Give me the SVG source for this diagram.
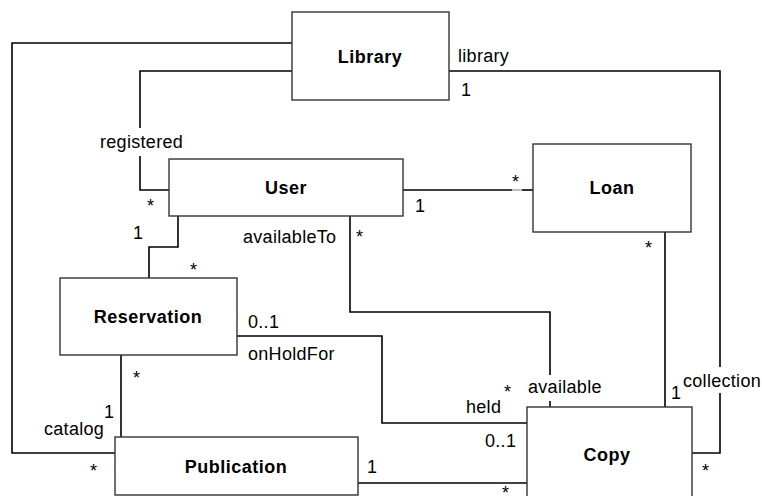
<svg xmlns="http://www.w3.org/2000/svg" width="762" height="496" viewBox="0 0 762 496">
<style>
.box{fill:#fff;stroke:#333;stroke-width:1.4}
.ln{fill:none;stroke:#000;stroke-width:1.6}
.nm{font-family:"Liberation Sans",Arial,sans-serif;font-size:18px;font-weight:bold;letter-spacing:0.5px;text-anchor:middle;fill:#000}
.lb{font-family:"Liberation Sans",Arial,sans-serif;font-size:18px;letter-spacing:0.3px;fill:#000}
</style>
<rect width="762" height="496" fill="#fff"/>
<g id="connectors">
<polyline class="ln" points="292,43 12,43 12,453 115,453"/>
<polyline class="ln" points="292,71 140,71 140,128"/>
<polyline class="ln" points="140,156 140,190 169,190"/>
<polyline class="ln" points="449,71 720,71 720,367"/>
<polyline class="ln" points="720,393 720,453 692,453"/>
<line class="ln" x1="403" y1="190" x2="512" y2="190"/>
<line x1="512" y1="190" x2="522" y2="190" stroke="#aaa" stroke-width="1.6"/>
<line class="ln" x1="522" y1="190" x2="533" y2="190"/>
<polyline class="ln" points="178,216 178,247 149,247 149,278"/>
<polyline class="ln" points="350,216 350,312 550,312 550,375"/>
<line class="ln" x1="550" y1="401" x2="550" y2="407"/>
<polyline class="ln" points="237,336 382,336 382,423 527,423"/>
<line class="ln" x1="121" y1="355" x2="121" y2="437"/>
<line class="ln" x1="358" y1="483" x2="527" y2="483"/>
<line class="ln" x1="665" y1="232" x2="665" y2="407"/>
</g>
<g id="library"><rect class="box" x="292" y="12" width="157" height="88"/><text class="nm" x="370" y="63">Library</text></g>
<g id="user"><rect class="box" x="169" y="159" width="234" height="57"/><text class="nm" x="286" y="194">User</text></g>
<g id="loan"><rect class="box" x="533" y="144" width="158" height="88"/><text class="nm" x="612" y="194">Loan</text></g>
<g id="reservation"><rect class="box" x="60" y="278" width="177" height="77"/><text class="nm" x="148" y="323">Reservation</text></g>
<g id="publication"><rect class="box" x="115" y="437" width="243" height="58"/><text class="nm" x="236" y="473">Publication</text></g>
<g id="copy"><rect class="box" x="527" y="407" width="165" height="110"/><text class="nm" x="607" y="461">Copy</text></g>
<g id="labels">
<text class="lb" x="458" y="62">library</text>
<text class="lb" x="461" y="96">1</text>
<text class="lb" x="100" y="148">registered</text>
<text class="lb" x="147" y="212">*</text>
<text class="lb" x="133" y="239">1</text>
<text class="lb" x="243" y="243">availableTo</text>
<text class="lb" x="356" y="243">*</text>
<text class="lb" x="415" y="212">1</text>
<text class="lb" x="512" y="188">*</text>
<text class="lb" x="190" y="276">*</text>
<text class="lb" x="645" y="254">*</text>
<text class="lb" x="248" y="328">0..1</text>
<text class="lb" x="248" y="360">onHoldFor</text>
<text class="lb" x="133" y="384">*</text>
<text class="lb" x="104" y="418">1</text>
<text class="lb" x="44" y="435">catalog</text>
<text class="lb" x="90" y="477">*</text>
<text class="lb" x="367" y="473">1</text>
<text class="lb" x="504" y="398">*</text>
<text class="lb" x="528" y="393">available</text>
<text class="lb" x="466" y="413">held</text>
<text class="lb" x="485" y="447">0..1</text>
<text class="lb" x="502" y="499">*</text>
<text class="lb" x="671" y="399">1</text>
<text class="lb" x="683" y="387" letter-spacing="0">collection</text>
<text class="lb" x="702" y="477">*</text>
</g>
</svg>
